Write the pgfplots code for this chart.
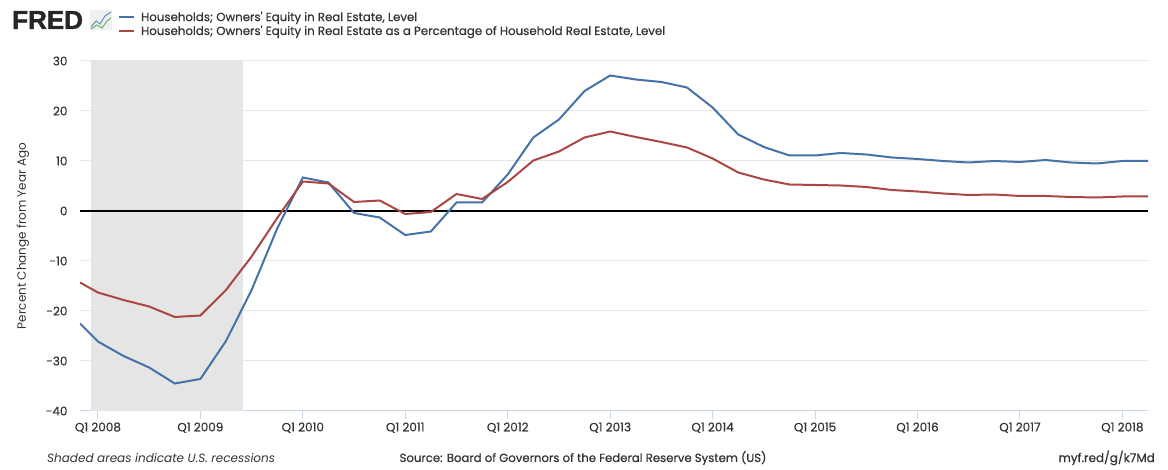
\documentclass[border=0pt]{standalone}
\usepackage{fontspec}
\setmainfont{Poppins}
\newfontfamily\medfont{Poppins}[FakeBold=0.6]
\newfontfamily\logofont{Liberation Sans}[FakeBold=1.5]
\usepackage{pgfplots}
\usepackage{pgfplotstable}
\pgfplotsset{compat=1.18}

\definecolor{fredblue}{HTML}{4572A7}
\definecolor{fredred}{HTML}{AA4643}
\definecolor{gridgray}{HTML}{E6E6E6}
\definecolor{recgray}{HTML}{E5E5E5}
\definecolor{axisblue}{HTML}{CCD6EB}
\definecolor{txt}{HTML}{333333}

% quarters since Q1 2008; blue = owners' equity, red = equity share of real estate
\pgfplotstableread{
q     equity  share
-0.7  -22.5  -14.3
0     -26.1  -16.3
1     -29.0  -17.8
2     -31.3  -19.1
3     -34.5  -21.2
4     -33.6  -20.9
5     -26.0  -15.8
6     -15.8   -9.1
7      -3.5   -1.4
8       6.7    5.9
9       5.7    5.5
10     -0.4    1.8
11     -1.3    2.1
12     -4.8   -0.6
13     -4.1   -0.2
14      1.7    3.4
15      1.7    2.4
16      7.3    5.8
17     14.7   10.1
18     18.3   11.9
19     24.0   14.7
20     27.1   15.9
21     26.3   14.8
22     25.8   13.8
23     24.7   12.7
24     20.7   10.5
25     15.3    7.7
26     12.8    6.3
27     11.1    5.3
28     11.1    5.2
29     11.6    5.1
30     11.3    4.8
31     10.7    4.2
32     10.4    3.9
33     10.0    3.5
34      9.7    3.2
35     10.0    3.3
36      9.8    3.0
37     10.2    3.0
38      9.7    2.8
39      9.5    2.7
40     10.0    2.9
41     10.0    2.9
}\fred

\begin{document}
\begin{tikzpicture}
  \path[use as bounding box] (-80pt,-59pt) rectangle (1088pt,411pt);
  \begin{axis}[
    at={(0pt,0pt)}, anchor=south west,
    scale only axis,
    width=1068pt, height=350pt,
    xmin=-0.7, xmax=41,
    ymin=-40, ymax=30,
    separate axis lines,
    axis x line*=bottom,
    axis y line*=left,
    x axis line style={draw=axisblue, line width=1pt, -},
    y axis line style={draw=none},
    xtick={0,4,...,40},
    xticklabels={Q1 2008,Q1 2009,Q1 2010,Q1 2011,Q1 2012,Q1 2013,Q1 2014,Q1 2015,Q1 2016,Q1 2017,Q1 2018},
    ytick={-40,-30,...,30},
    /pgf/number format/assume math mode=true,
    tick align=outside,
    xtick style={draw=axisblue, line width=1pt},
    x tick label style={font=\fontsize{12}{14}\medfont, text=txt},
    major tick length=8pt,
    ytick style={draw=none},
    y tick label style={font=\fontsize{12}{14}\medfont, text=txt, xshift=-1pt},
    ymajorgrids,
    grid style={gridgray, line width=1pt},
    ylabel={Percent Change from Year Ago},
    every axis y label/.style={at={(axis description cs:-0.0534,0.5)}, rotate=90, anchor=center, font=\fontsize{12}{14}\selectfont, text=txt},
    legend style={at={(0.0355,1.1457)}, anchor=north west, draw=none, fill=none,
      font=\fontsize{11.8}{14}\medfont, text=txt, row sep=0pt, inner sep=0pt,
      nodes={inner xsep=6pt, inner ysep=1.5pt}},
    legend cell align=left,
    legend image code/.code={\draw[#1, line width=2pt] (0pt,0pt) -- (15pt,0pt);},
  ]
    \addplot[fill=recgray, draw=none, forget plot] coordinates {
      (-0.27,-40) (-0.27,30) (5.66,30) (5.66,-40)} -- cycle;
    \addplot[black, line width=2pt, forget plot] coordinates {(-0.7,0) (41,0)};
    \addplot[fredblue, line width=2pt] table[x=q, y=equity] {\fred};
    \addplot[fredred, line width=2pt] table[x=q, y=share] {\fred};
    \legend{{Households; Owners' Equity in Real Estate, Level},
            {Households; Owners' Equity in Real Estate as a Percentage of Household Real Estate, Level}}
  \end{axis}
  % FRED logo
  \node[anchor=west, inner sep=0pt, font=\fontsize{26}{26}\logofont\bfseries, text=black!85] at (-68pt,391pt) {FRED};
  \fill[gray!12] (10pt,381pt) rectangle (32pt,401pt);
  \draw[fredblue!80, line width=1pt] (11pt,384pt) -- (16pt,390pt) -- (20pt,387pt) -- (25pt,395pt) -- (31pt,399pt);
  \draw[green!50!black!60, line width=1pt] (11pt,382pt) -- (17pt,386pt) -- (22pt,383pt) -- (27pt,390pt) -- (31pt,393pt);
  % footer
  \node[anchor=west, inner sep=0pt, font=\fontsize{12}{14}\selectfont\itshape, text=txt] at (-33pt,-47pt) {Shaded areas indicate U.S. recessions};
  \node[anchor=center, inner sep=0pt, font=\fontsize{11.7}{14}\medfont, text=txt] at (503pt,-47pt) {Source: Board of Governors of the Federal Reserve System (US)};
  \node[anchor=east, inner sep=0pt, font=\fontsize{12}{14}\medfont, text=txt] at (1075pt,-47pt) {myf.red/g/k7Md};
\end{tikzpicture}
\end{document}
